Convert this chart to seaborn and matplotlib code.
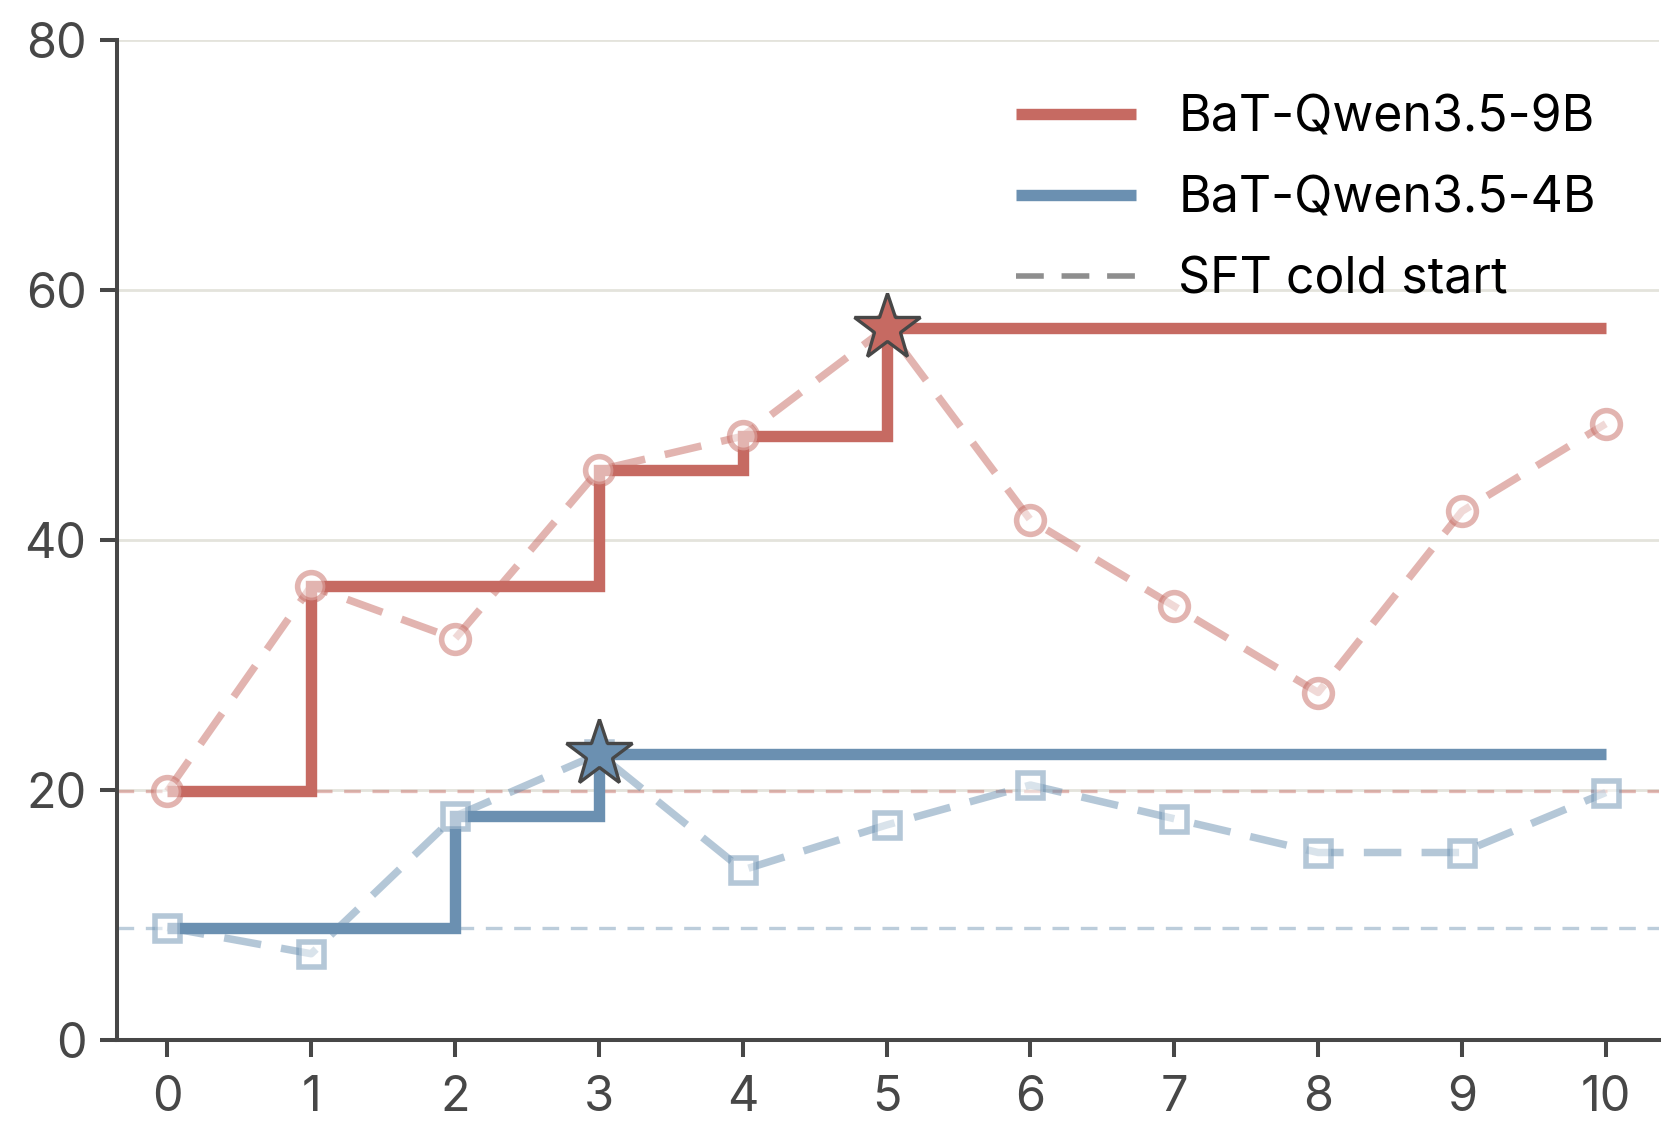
import numpy as np
import pandas as pd
import matplotlib
matplotlib.use("Agg")
import matplotlib.pyplot as plt
from matplotlib.lines import Line2D
import seaborn as sns

# Data
steps = list(range(11))
score_9b = [19.9, 36.3, 32.1, 45.6, 48.3, 57.0, 41.6, 34.7, 27.8, 42.3, 49.3]
score_4b = [9.0, 6.9, 17.9, 22.9, 13.6, 17.2, 20.4, 17.7, 15.0, 15.0, 19.8]
labels = ["BaT-Qwen3.5-9B", "BaT-Qwen3.5-4B"]
baseline_label = "SFT cold start"
y_ticks = [0, 20, 40, 60, 80]

red = "#c66a62"
blue = "#6b90b1"
ink = "#474747"

sns.set_theme(style="ticks")
plt.rcParams["font.family"] = ["Inter", "DejaVu Sans"]

fig = plt.figure(figsize=(16.8, 11.4), dpi=100)
ax = fig.add_axes([117 / 1680, 100 / 1140, 1542 / 1680, 1000 / 1140])

handles = []
for vals, color, marker, label in [(score_9b, red, "o", labels[0]),
                                    (score_4b, blue, "s", labels[1])]:
    df = pd.DataFrame({"step": steps, "score": vals})
    df["best"] = np.maximum.accumulate(df["score"])

    # cold start baseline
    ax.axhline(vals[0], color=color, lw=2.4, alpha=0.45, dashes=(5, 3.5), zorder=2)

    # best-so-far staircase
    sns.lineplot(data=df, x="step", y="best", ax=ax, color=color, lw=8.2,
                 drawstyle="steps-post", solid_joinstyle="miter",
                 solid_capstyle="butt", zorder=3)

    # raw per-step scores
    sns.lineplot(data=df, x="step", y="score", ax=ax, color=color, lw=5.4,
                 alpha=0.5, marker=marker, markersize=20 if marker == "o" else 18,
                 markerfacecolor="white", markeredgecolor=color, markeredgewidth=4,
                 dashes=False, zorder=4).lines[-1].set_dashes((5, 2.7))

    # best checkpoint star
    best_i = int(np.argmax(vals))
    ax.plot(steps[best_i], vals[best_i], marker="*", markersize=50, color=color,
            markeredgecolor=ink, markeredgewidth=2.4, zorder=6, linestyle="none")

    handles.append(Line2D([0], [0], color=color, lw=8.2, solid_capstyle="butt",
                          label=label))

handles.append(Line2D([0], [0], color="#8e8e8e", lw=4, dashes=(5, 3.2),
                      label=baseline_label))

ax.set_xlim(-0.35, 10.37)
ax.set_ylim(0, 80)
ax.set_xticks(steps)
ax.set_yticks(y_ticks)
ax.set_xlabel("")
ax.set_ylabel("")
ax.grid(True, axis="y", color="#e4e3dc", lw=2)
ax.set_axisbelow(True)

sns.despine(ax=ax)
for side in ["left", "bottom"]:
    ax.spines[side].set_linewidth(2.9)
    ax.spines[side].set_color(ink)
ax.tick_params(axis="both", colors=ink, labelsize=35, width=2.9, length=12,
               labelcolor=ink, pad=10)
ax.tick_params(axis="x", pad=13)

ax.legend(handles=handles, loc="upper left", bbox_to_anchor=(0.583, 0.946),
          frameon=False, fontsize=36, handlelength=2.4, handletextpad=0.85,
          labelspacing=0.68, borderaxespad=0, borderpad=0, labelcolor="black")

fig.savefig("out.png", dpi=100)
